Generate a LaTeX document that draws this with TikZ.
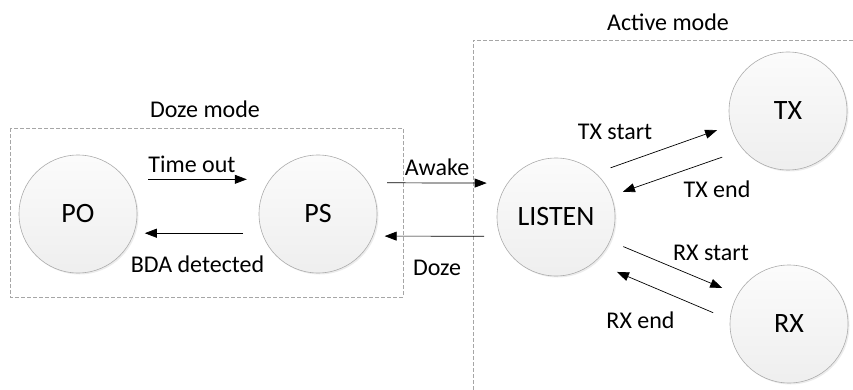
\documentclass[tikz,border=0pt]{standalone}
\usepackage{fontspec}
\setmainfont{Carlito}
\usepackage{tikz}
\usetikzlibrary{arrows.meta}
\usetikzlibrary{shadows}

\tikzset{
  state/.style={circle, draw=gray!65, line width=0.6pt, minimum size=118pt, inner sep=0pt, outer sep=0pt,
    top color=gray!3, bottom color=gray!13, font=\fontsize{28}{32}\selectfont,
    drop shadow={opacity=0.15, shadow xshift=1.5pt, shadow yshift=-1.5pt}},
  flow/.style={line width=0.7pt, -{Triangle[length=12pt,width=9pt]}},
  lbl/.style={font=\fontsize{24}{28}\selectfont, inner sep=0pt},
  modebox/.style={draw=gray!70, line width=0.7pt, dash pattern=on 4pt off 2pt}
}

\begin{document}
\begin{tikzpicture}[x=1pt, y=-1pt]
\useasboundingbox (0,0) rectangle (853,390);

\draw[modebox] (10,128) rectangle (403,297);
\draw[modebox] (473,390) -- (473,40) -- (853,40);
\node[lbl] (dozemode) at (205,109) {Doze mode};
\node[lbl] (activemode) at (668,22) {Active mode};

\node[state] (PO) at (78,214) {PO};
\node[state] (PS) at (318,214) {PS};
\node[state] (LISTEN) at (556,217) {LISTEN};
\node[state] (TX) at (788,111) {TX};
\node[state] (RX) at (789,324) {RX};

\draw[flow, shorten <=22.5pt, shorten >=23.5pt] (PO.36) -- (PS.144);
\draw[flow, shorten <=19pt, shorten >=11pt] (PS.199) -- (PO.341);
\draw[flow, shorten <=19pt, shorten >=21pt] (PS.32) -- (LISTEN.145);
\draw[flow, shorten <=16pt, shorten >=12pt] (LISTEN.199) -- (PS.338);
\draw[flow, shorten <=16pt, shorten >=14.5pt] (LISTEN.48) -- (TX.194);
\draw[flow, shorten <=22.5pt, shorten >=12.5pt] (TX.221) -- (LISTEN.21);
\draw[flow, shorten <=14.5pt, shorten >=17pt] (LISTEN.336) -- (RX.150);
\draw[flow, shorten <=18.5pt, shorten >=25pt] (RX.176) -- (LISTEN.310);

\node[lbl] (timeout) at (192,164) {Time out};
\node[lbl] (bda) at (197.5,264) {BDA detected};
\node[lbl] (awake) at (437,167.5) {Awake};
\node[lbl] (doze) at (437,267.5) {Doze};
\node[lbl] (txstart) at (615,131.5) {TX start};
\node[lbl] (txend) at (717,189) {TX end};
\node[lbl] (rxstart) at (711,253) {RX start};
\node[lbl] (rxend) at (640.5,320) {RX end};
\end{tikzpicture}
\end{document}
